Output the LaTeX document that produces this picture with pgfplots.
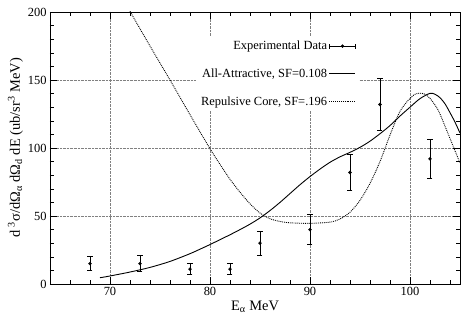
\documentclass[border=0pt]{standalone}
\usepackage{fontspec}
\setmainfont{Liberation Serif}
\usepackage{pgfplots}
\pgfplotsset{compat=1.18}
\pgfplotsset{
  longline legend/.style={legend image code/.code={\draw[##1] (0bp,0bp) -- (26bp,0bp);}},
  errbar legend/.style={legend image code/.code={
    \draw[black, line width=0.8pt] (0bp,0bp) -- (26bp,0bp);
    \draw[black, line width=0.8pt] (0bp,-2.5bp) -- (0bp,2.5bp) (26bp,-2.5bp) -- (26bp,2.5bp);
    \fill[black] (13bp,0bp) circle (1.5bp);}},
}
\begin{document}
\begin{tikzpicture}
\begin{axis}[
  scale only axis, width=410bp, height=272bp,
  xmin=64, xmax=105, ymin=0, ymax=200,
  xtick={70,80,90,100}, ytick={0,50,100,150,200},
  minor xtick={64,66,...,104}, minor ytick={10,20,...,190},
  tick align=inside, major tick length=7bp, minor tick length=4bp,
  xmajorgrids, ymajorgrids,
  grid style={densely dotted, gray, line width=0.6pt},
  every tick/.style={black, line width=0.5pt},
  axis line style={line width=0.7pt},
  /pgf/number format/assume math mode=true,
  tick label style={font=\fontsize{12.5}{14}\selectfont},
  label style={font=\fontsize{14.5}{16}\selectfont},
  xlabel={E\textsubscript{α} MeV},
  ylabel={d \textsuperscript{3}σ/dΩ\textsubscript{α} dΩ\textsubscript{d} dE (ub/sr\textsuperscript{3} MeV)},
  xlabel style={yshift=2bp},
  ylabel style={yshift=-2bp},
  legend plot pos=right,
  legend cell align=right,
  legend style={draw=none, fill=white, at={(0.754,0.912)}, anchor=north east,
    font=\fontsize{12.5}{14}\selectfont, row sep=13.5bp, inner sep=3bp,
    /tikz/every even column/.append style={column sep=5bp}},
]
\addplot[black, only marks, mark=*, mark size=1.5bp, mark options={fill=black},
  errbar legend,
  error bars/.cd, y dir=both, y explicit,
  error bar style={line width=0.8pt},
  error mark options={rotate=90, mark size=2.5bp, line width=0.8pt}]
  coordinates {
  (68,15) +- (0,5)
  (73,15) +- (0,6)
  (78,11) +- (0,4)
  (82,11) +- (0,4)
  (85,30) +- (0,9)
  (90,40) +- (0,11)
  (94,82) +- (0,13)
  (97,132) +- (0,19)
  (102,92) +- (0,14)
};
\addlegendentry{Experimental Data}
\addplot[black, line width=0.9pt, smooth, longline legend] coordinates {
  (69,4.6) (70,5.9) (72,8.8) (74,12.2) (76,16.6) (78,22.3) (79,25.6) (80,29)
  (81,32.6) (82,36.2) (83,40) (84,44) (85,48.6) (86,54) (87,60) (88,66.5)
  (89,73) (90,79) (91,84.5) (92,89.5) (93,93.5) (94,96.8) (95,100.5) (96,105)
  (97,110.5) (98,116.5) (99,123.5) (100,130) (101,136.3) (102,140.2)
  (102.5,139.5) (103,137) (103.5,132.5) (104,126) (104.5,119) (105,111)
};
\addlegendentry{All-Attractive, SF=0.108}
\addplot[black, densely dotted, line width=0.9pt, smooth, longline legend] coordinates {
  (72,200.5) (74,175) (76,150) (78,124.5)
  (80,99.5) (81,88) (82,77) (83,67.5) (84,59) (85,52.2) (86,48) (87,46)
  (88,45) (90,44.6) (92,45.5) (93,47.8) (94,52.8) (95,61.5)
  (96,74) (97,90) (98,109.5) (99,127) (100,136.5) (100.5,139.5) (101,140.3)
  (101.5,139.5) (102,136.5) (102.6,130.5) (103,125) (104,107) (105,89)
};
\addlegendentry{Repulsive Core, SF=.196}
\end{axis}
\pgfresetboundingbox
\path ([shift={(-50bp,-39bp)}]current axis.south west) rectangle ([shift={(1bp,12bp)}]current axis.north east);
\end{tikzpicture}
\end{document}
